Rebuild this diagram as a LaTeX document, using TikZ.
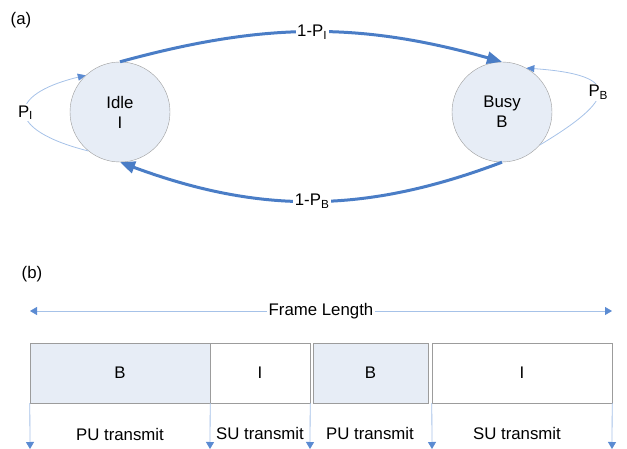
\documentclass[tikz,border=0pt]{standalone}
\usepackage{fontspec}
\setmainfont{Liberation Sans}
\usetikzlibrary{arrows.meta}
\definecolor{thickblue}{HTML}{4A7DC6}
\definecolor{thinblue}{HTML}{A6C2E8}
\definecolor{tipblue}{HTML}{5B8BD2}
\definecolor{statefill}{HTML}{E7EDF6}
\definecolor{edgegray}{HTML}{9C9C9C}
\tikzset{
  marktip/.tip={Triangle[length=7pt,width=8pt,color=tipblue]},
  state/.style={circle, draw=edgegray, fill=statefill, minimum size=100pt, inner sep=0pt, align=center},
  slot/.style={draw=edgegray, minimum height=60pt, inner sep=0pt},
  busyslot/.style={slot, fill=statefill},
  idleslot/.style={slot, fill=white},
  trans/.style={draw=thickblue, line width=3pt, -{Triangle[length=15pt,width=12pt]}},
  loopline/.style={draw=thinblue, line width=0.8pt, -{Triangle[length=8pt,width=7pt,color=tipblue]}},
  markline/.style={draw=thinblue, line width=0.8pt},
  lbl/.style={fill=white, inner sep=1.5pt},
}
\begin{document}
\begin{tikzpicture}[x=1pt, y=-1pt, font=\fontsize{16.8}{20}\selectfont]
\useasboundingbox (0,0) rectangle (627,449);

% ---- (a) two-state channel model ----
\node (tagA) at (21,20) {(a)};
\node[state] (idle) at (120,112) {Idle\\I};
\node[state] (busy) at (502,112) {Busy\\B};

\draw[trans] (idle.north) .. controls (265,22) and (360,22) .. (busy.north)
  node[pos=0.5, lbl] (pI) {1-P\textsubscript{I}};
\draw[trans] (busy.south) .. controls (365,214) and (260,214) .. (idle.south)
  node[pos=0.5, lbl] (pB) {1-P\textsubscript{B}};

\draw[loopline] (idle.231) .. controls (5,130) and (5,95) .. (idle.133)
  node[pos=0.5, lbl] (selfI) {P\textsubscript{I}};
\draw[loopline] (busy.319) .. controls (615,100) and (625,75) .. (busy.61)
  node[pos=0.5, lbl] (selfB) {P\textsubscript{B}};

% ---- (b) frame made of busy and idle slots ----
\node (tagB) at (32,274) {(b)};
\coordinate (fl) at (30,311);
\coordinate (fr) at (612,311);
\draw[markline, {marktip}-{marktip}] (fl) -- (fr)
  node[pos=0.5, lbl] (flen) {Frame Length};

\node[busyslot, minimum width=180pt] (s1) at (120,373) {B};
\node[idleslot, minimum width=100pt] (s2) at (260,373) {I};
\node[busyslot, minimum width=115pt] (s3) at (370.5,373) {B};
\node[idleslot, minimum width=180pt] (s4) at (522,373) {I};

\coordinate (d1) at (30,449);
\coordinate (d2) at (210,449);
\coordinate (d3) at (310,449);
\coordinate (d4) at (432,449);
\coordinate (d5) at (612,449);
\draw[markline, -{marktip}] (s1.south west) -- (d1);
\draw[markline, -{marktip}] (s1.south east) -- (d2);
\draw[markline, -{marktip}] (s2.south east) -- (d3);
\draw[markline, -{marktip}] (s4.south west) -- (d4);
\draw[markline, -{marktip}] (s4.south east) -- (d5);

\node (u1) at (120,434) {PU transmit};
\node (u2) at (260,433) {SU transmit};
\node (u3) at (370,433) {PU transmit};
\node (u4) at (517,433) {SU transmit};
\end{tikzpicture}
\end{document}
